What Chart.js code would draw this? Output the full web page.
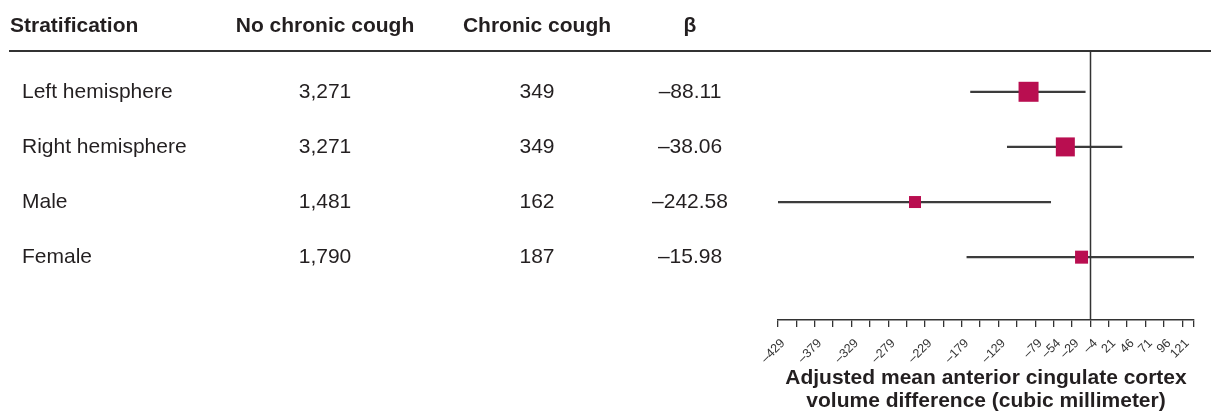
<!DOCTYPE html>
<html>
<head>
<meta charset="utf-8">
<script src="https://cdn.jsdelivr.net/npm/chart.js@4"></script>
<style>
  body { margin: 0; background: #fff; }
  #wrap { width: 1211px; height: 418px; position: relative; }
</style>
</head>
<body>
<div id="wrap"><canvas id="forestChart"></canvas></div>
<script>
// table + forest data
const strata = ['Left hemisphere', 'Right hemisphere', 'Male', 'Female'];
const noChronicCough = ['3,271', '3,271', '1,481', '1,790'];
const chronicCough = ['349', '349', '162', '187'];
const beta = [-88.11, -38.06, -242.58, -15.98];
const ciLow = [-167, -117, -430, -172];
const ciHigh = [-11, 39, -58, 137];
const tickLabels = [-429, -379, -329, -279, -229, -179, -129, -79, -54, -29, -4, 21, 46, 71, 96, 121];
const headers = ['Stratification', 'No chronic cough', 'Chronic cough', 'β'];

const xMin = -429;
const xMax = 137;
const refLine = -4;

// marker side in px (study weight)
const squareSide = [20, 19, 12, 13];

const fontFamily = '"Liberation Sans", Arial, Helvetica, sans-serif';
const textColor = '#231f20';
const dash = v => String(v).replace('-', '\u2013');

// draws the table on the left, the header rule and the reference line
const tablePlugin = {
    id: 'tablePlugin',
    afterDraw(chart) {
        const ctx = chart.ctx;
        const yScale = chart.scales.y;
        const xScale = chart.scales.x;
        const area = chart.chartArea;

        ctx.save();
        // header
        ctx.fillStyle = textColor;
        ctx.font = 'bold 21px ' + fontFamily;
        ctx.textBaseline = 'alphabetic';
        ctx.textAlign = 'left';
        ctx.fillText(headers[0], 10, 32);
        ctx.textAlign = 'center';
        ctx.fillText(headers[1], 325, 32);
        ctx.fillText(headers[2], 537, 32);
        ctx.fillText(headers[3], 690, 32);

        // rule under header
        ctx.strokeStyle = '#333';
        ctx.lineWidth = 2;
        ctx.beginPath();
        ctx.moveTo(9, area.top);
        ctx.lineTo(chart.width, area.top);
        ctx.stroke();

        // rows
        ctx.font = '21px ' + fontFamily;
        ctx.textBaseline = 'middle';
        strata.forEach((s, i) => {
            const y = yScale.getPixelForValue(i);
            ctx.textAlign = 'left';
            ctx.fillText(s, 22, y);
            ctx.textAlign = 'center';
            ctx.fillText(noChronicCough[i], 325, y);
            ctx.fillText(chronicCough[i], 537, y);
            ctx.fillText(dash(beta[i].toFixed(2)), 690, y);
        });

        // reference line
        const xr = Math.round(xScale.getPixelForValue(refLine)) + 0.5;
        ctx.lineWidth = 1.5;
        ctx.beginPath();
        ctx.moveTo(xr, area.top);
        ctx.lineTo(xr, area.bottom);
        ctx.stroke();
        ctx.restore();
    }
};

const ctx = document.getElementById('forestChart').getContext('2d');
const forestChart = new Chart(ctx, {
    type: 'scatter',
    data: {
        datasets: [
            {
                label: 'β',
                data: beta.map((b, i) => ({x: b, y: i})),
                pointStyle: 'rect',
                pointRadius: squareSide.map(s => s / Math.SQRT2),
                pointHoverRadius: squareSide.map(s => s / Math.SQRT2),
                backgroundColor: '#b90e50',
                borderWidth: 0,
                order: 0
            },
            {
                type: 'bar',
                label: '95% CI',
                indexAxis: 'y',
                data: strata.map((s, i) => ({x: [ciLow[i], ciHigh[i]], y: i})),
                backgroundColor: '#3c3c3c',
                barThickness: 1.6,
                grouped: false,
                order: 1
            }
        ]
    },
    options: {
        responsive: true,
        maintainAspectRatio: false,
        animation: false,
        layout: {
            padding: {left: 778, right: 17, top: 51, bottom: 0}
        },
        plugins: {
            legend: {display: false},
            tooltip: {enabled: false}
        },
        scales: {
            x: {
                type: 'linear',
                min: xMin,
                max: xMax,
                afterBuildTicks: scale => {
                    const ticks = [];
                    for (let v = xMin; v <= 121; v += 25) ticks.push({value: v});
                    ticks.push({value: xMax});
                    scale.ticks = ticks;
                },
                afterFit: scale => {
                    scale.height = 98;
                    scale.paddingLeft = 0;
                    scale.paddingRight = 0;
                },
                grid: {
                    drawOnChartArea: false,
                    drawTicks: true,
                    tickLength: 7,
                    color: '#333',
                    lineWidth: 1.3
                },
                border: {display: true, color: '#333', width: 1.5},
                ticks: {
                    autoSkip: false,
                    minRotation: 45,
                    maxRotation: 45,
                    padding: 9,
                    labelOffset: 5,
                    color: '#333',
                    font: {family: fontFamily, size: 12.5},
                    callback: v => tickLabels.includes(v) ? dash(v) : ''
                },
                title: {
                    display: true,
                    text: ['Adjusted mean anterior cingulate cortex', 'volume difference (cubic millimeter)'],
                    color: textColor,
                    font: {family: fontFamily, size: 21, weight: 'bold', lineHeight: 1.07},
                    padding: {top: 0, bottom: 6}
                }
            },
            y: {
                type: 'linear',
                display: false,
                reverse: true,
                offset: false,
                min: -0.74,
                max: 4.14
            }
        }
    },
    plugins: [tablePlugin]
});
</script>
</body>
</html>
